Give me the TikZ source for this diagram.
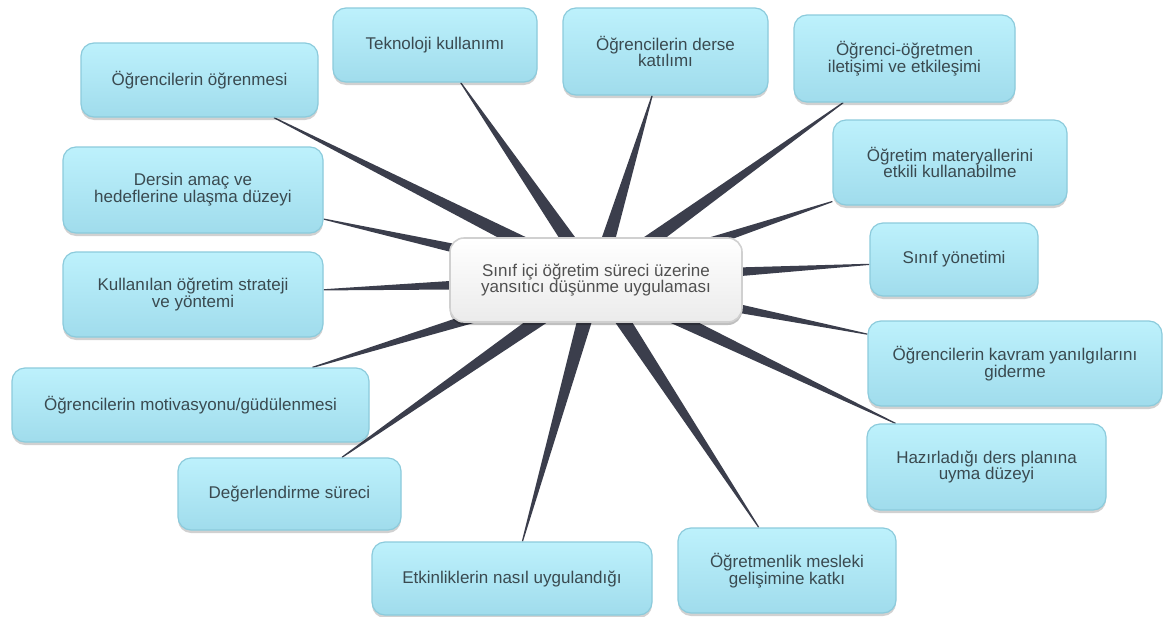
\documentclass[tikz,border=0pt]{standalone}
\usepackage{fontspec}
\setmainfont{Liberation Sans}
\usetikzlibrary{calc, shadows, backgrounds}

\definecolor{topictop}{HTML}{BDF1FC}
\definecolor{topicbot}{HTML}{A0DCEC}
\definecolor{topicline}{HTML}{8CCBDC}
\definecolor{topictext}{HTML}{3A4A50}
\definecolor{corebot}{HTML}{EBEBEB}
\definecolor{coreline}{HTML}{D0D0D0}
\definecolor{coretext}{HTML}{505050}
\definecolor{spokecol}{HTML}{3B3E4C}

\begin{document}
\begin{tikzpicture}[
    x=1pt, y=-1pt,
    topic/.style={
        rectangle, rounded corners=13pt, draw=topicline, line width=1.2pt,
        top color=topictop, bottom color=topicbot, align=center,
        text=topictext, font=\fontsize{17}{15.8}\selectfont, inner sep=4pt,
        drop shadow={shadow xshift=0pt, shadow yshift=-3pt, opacity=0.18, fill=black}
    },
    corebox/.style={
        rectangle, rounded corners=14pt, draw=coreline, line width=1.6pt,
        top color=white, bottom color=corebot, align=center,
        text=coretext, font=\fontsize{17}{15.8}\selectfont,
        drop shadow={shadow xshift=0pt, shadow yshift=-3pt, opacity=0.25, fill=black}
    },
    spoke/.style={fill=spokecol},
]
\useasboundingbox (0,0) rectangle (1173,616);

% Centre of the map
\node[corebox, minimum width=292, minimum height=84] (core) at (596,280)
    {Sınıf içi öğretim süreci üzerine\\yansıtıcı düşünme uygulaması};

% Topics, clockwise from the upper left
\node[topic, minimum width=237, minimum height=74] (ogrenme) at (199.5,80) {Öğrencilerin öğrenmesi};
\node[topic, minimum width=204, minimum height=74] (teknoloji) at (435,45) {Teknoloji kullanımı};
\node[topic, minimum width=205, minimum height=87] (katilim) at (665.5,51.5) {Öğrencilerin derse\\katılımı};
\node[topic, minimum width=221, minimum height=87] (iletisim) at (904.5,58.5) {Öğrenci-öğretmen\\iletişimi ve etkileşimi};
\node[topic, minimum width=234, minimum height=85] (materyal) at (950,162.5) {Öğretim materyallerini\\etkili kullanabilme};
\node[topic, minimum width=168, minimum height=73] (yonetim) at (954,259.5) {Sınıf yönetimi};
\node[topic, minimum width=294, minimum height=85] (kavram) at (1015,363.5) {Öğrencilerin kavram yanılgılarını\\giderme};
\node[topic, minimum width=239, minimum height=86] (plan) at (986.5,467) {Hazırladığı ders planına\\uyma düzeyi};
\node[topic, minimum width=218, minimum height=85] (gelisim) at (787,570.5) {Öğretmenlik mesleki\\gelişimine katkı};
\node[topic, minimum width=280, minimum height=73] (etkinlik) at (512,578.5) {Etkinliklerin nasıl uygulandığı};
\node[topic, minimum width=223, minimum height=72] (degerlendirme) at (289.5,494) {Değerlendirme süreci};
\node[topic, minimum width=357, minimum height=74] (motivasyon) at (190.5,405) {Öğrencilerin motivasyonu/güdülenmesi};
\node[topic, minimum width=260, minimum height=85] (strateji) at (193,294.5) {Kullanılan öğretim strateji\\ve yöntemi};
\node[topic, minimum width=260, minimum height=86] (amac) at (193,190) {Dersin amaç ve\\hedeflerine ulaşma düzeyi};

% Tapered spokes from the centre to each topic, behind the boxes
\begin{scope}[on background layer]
\foreach \t in {ogrenme, teknoloji, katilim, iletisim, materyal, yonetim, kavram,
                plan, gelisim, etkinlik, degerlendirme, motivasyon, strateji, amac} {
    \path (core) -- coordinate[pos=1] (tip-\t) (\t);
    \fill[spoke] ($(core.center)!8.5pt!90:(tip-\t)$) -- ($(tip-\t)!0.6pt!-90:(core.center)$)
        -- ($(tip-\t)!0.6pt!90:(core.center)$) -- ($(core.center)!8.5pt!-90:(tip-\t)$) -- cycle;
}
\end{scope}

\end{tikzpicture}
\end{document}
